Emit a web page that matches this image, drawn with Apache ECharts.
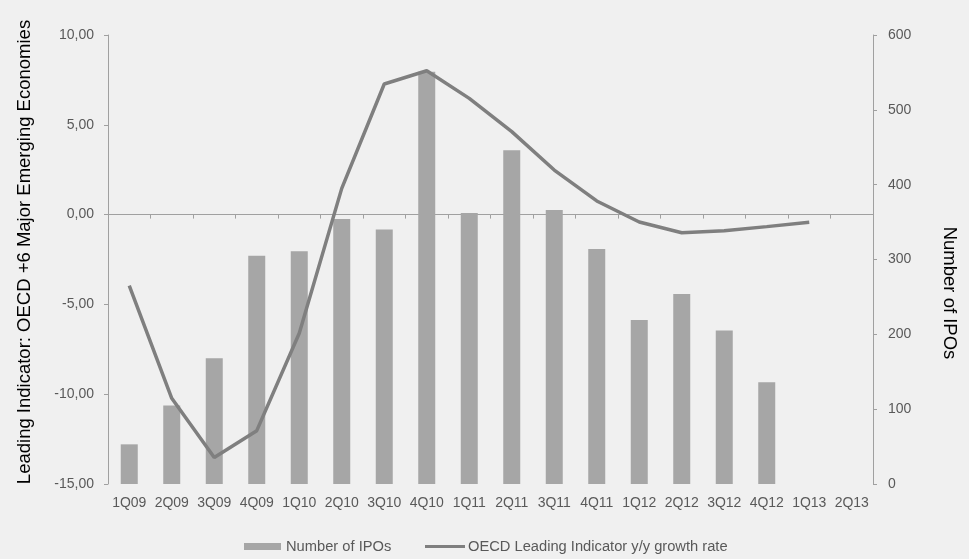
<!DOCTYPE html>
<html>
<head>
<meta charset="utf-8">
<script src="https://cdn.jsdelivr.net/npm/echarts@6/dist/echarts.min.js"></script>
<style>
html,body{margin:0;padding:0;background:#f0f0f0;}
#c{width:969px;height:559px;}
</style>
</head>
<body>
<div id="c"></div>
<script>
var categories = ['1Q09','2Q09','3Q09','4Q09','1Q10','2Q10','3Q10','4Q10','1Q11','2Q11','3Q11','4Q11','1Q12','2Q12','3Q12','4Q12','1Q13','2Q13'];
var ipoCounts = [53, 105, 168, 305, 311, 354, 340, 551, 362, 446, 366, 314, 219, 254, 205, 136, null, null];
var oecdGrowth = [-3.95, -10.23, -13.53, -12.03, -6.61, 1.46, 7.27, 8.01, 6.47, 4.62, 2.48, 0.76, -0.41, -1.01, -0.9, -0.67, -0.43, null];
var leftTicks = { min: -15, max: 10, interval: 5 };
var rightTicks = { min: 0, max: 600, interval: 100 };
var leftTitle = 'Leading Indicator: OECD +6 Major Emerging Economies';
var rightTitle = 'Number of IPOs';
var barName = 'Number of IPOs';
var lineName = 'OECD Leading Indicator y/y growth rate';

var chart = echarts.init(document.getElementById('c'), null, { renderer: 'canvas' });
var font = 'Liberation Sans, Arial, sans-serif';
var axisGray = '#a0a0a0';
var labelGray = '#595959';

chart.setOption({
  backgroundColor: '#f0f0f0',
  animation: false,
  textStyle: { fontFamily: font },
  grid: { left: 108, right: 96, top: 35, bottom: 75, containLabel: false, outerBoundsMode: 'none' },
  legend: [
    {
      left: 244,
      top: 539,
      padding: 0,
      itemWidth: 37,
      itemHeight: 7,
      textStyle: { color: labelGray, fontSize: 14.7, fontFamily: font },
      data: [{ name: barName, icon: 'rect' }]
    },
    {
      left: 425,
      top: 539,
      padding: 0,
      itemWidth: 40,
      itemHeight: 3,
      textStyle: { color: labelGray, fontSize: 14.7, fontFamily: font, padding: [0, 0, 0, -2] },
      data: [{ name: lineName, icon: 'rect' }]
    }
  ],
  xAxis: [
    {
      type: 'category',
      data: categories,
      position: 'bottom',
      axisLine: { show: false, onZero: false },
      axisTick: { show: false },
      axisLabel: { color: labelGray, fontSize: 14, margin: 12, interval: 0 }
    },
    {
      type: 'category',
      data: categories,
      position: 'bottom',
      axisLine: { show: true, onZero: true, onZeroAxisIndex: 0, lineStyle: { color: axisGray, width: 1 } },
      axisTick: { show: true, length: 4, lineStyle: { color: axisGray } },
      axisLabel: { show: false }
    }
  ],
  yAxis: [
    {
      type: 'value',
      min: leftTicks.min,
      max: leftTicks.max,
      interval: leftTicks.interval,
      position: 'left',
      axisLine: { show: true, lineStyle: { color: axisGray } },
      axisTick: { show: true, length: 4, lineStyle: { color: axisGray } },
      splitLine: { show: false },
      axisLabel: {
        color: labelGray, fontSize: 14, margin: 14,
        formatter: function (v) { return v.toFixed(2).replace('.', ','); }
      }
    },
    {
      type: 'value',
      min: rightTicks.min,
      max: rightTicks.max,
      interval: rightTicks.interval,
      position: 'right',
      axisLine: { show: true, lineStyle: { color: axisGray } },
      axisTick: { show: true, length: 4, lineStyle: { color: axisGray } },
      splitLine: { show: false },
      axisLabel: { color: labelGray, fontSize: 14, margin: 15 }
    }
  ],
  graphic: [
    {
      type: 'text',
      x: 25,
      y: 252,
      rotation: Math.PI / 2,
      style: {
        text: leftTitle,
        fill: '#000',
        font: '18.5px ' + font,
        align: 'center',
        verticalAlign: 'middle'
      }
    },
    {
      type: 'text',
      x: 949,
      y: 293,
      rotation: -Math.PI / 2,
      style: {
        text: rightTitle,
        fill: '#000',
        font: '18.5px ' + font,
        align: 'center',
        verticalAlign: 'middle'
      }
    }
  ],
  series: [
    {
      name: barName,
      type: 'bar',
      xAxisIndex: 0,
      yAxisIndex: 1,
      data: ipoCounts,
      barWidth: 17,
      itemStyle: { color: '#a6a6a6' },
      z: 1
    },
    {
      name: lineName,
      type: 'line',
      xAxisIndex: 0,
      yAxisIndex: 0,
      data: oecdGrowth,
      symbol: 'none',
      showSymbol: false,
      lineStyle: { color: '#7f7f7f', width: 3.5 },
      itemStyle: { color: '#7f7f7f' },
      z: 3
    }
  ]
});
</script>
</body>
</html>
